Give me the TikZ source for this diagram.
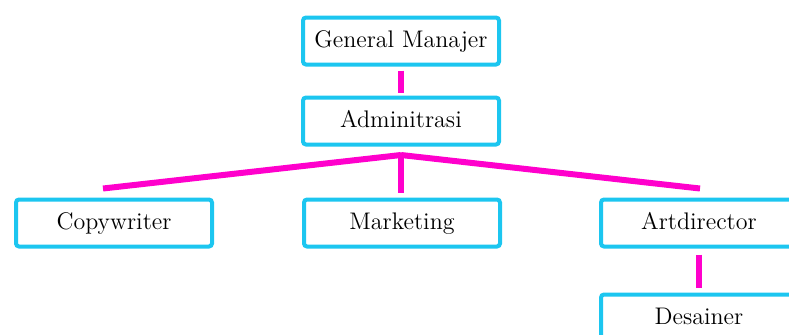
\documentclass[tikz,border=0pt]{standalone}
\usepackage{tikz}
\usetikzlibrary{positioning}
\definecolor{boxcyan}{HTML}{1CC6F0}
\definecolor{linkpink}{HTML}{FF00CC}

\begin{document}
\begin{tikzpicture}[
      x=0.5pt, y=-0.5pt,
      unit/.style={draw=boxcyan, line width=2pt, rounded corners=1.5pt, fill=white,
                   minimum width=98pt, minimum height=23.5pt, inner sep=0,
                   text height=1.75ex, text depth=.25ex,
                   font={\fontsize{12}{14}\selectfont}},
      link/.style={draw=linkpink, line width=3pt}
  ]
  \useasboundingbox (0,0) rectangle (789,334);
  \node[unit] (gm) at (401,41) {General Manajer};
  \node[unit] (adm) at (401,121) {Adminitrasi};
  \node[unit] (copy) at (114,223) {Copywriter};
  \node[unit] (mkt) at (402,223) {Marketing};
  \node[unit] (art) at (699,223) {Artdirector};
  \node[unit] (des) at (699,318) {Desainer};
  \coordinate (hub) at (401,155);
  % lines between levels
  \draw[link] ([yshift=-2pt]gm.south) -- ([yshift=1.5pt]adm.north);
  \draw[link] (hub) -- ([xshift=-5.5pt,yshift=4.5pt]copy.north);
  \draw[link] (hub) -- ([xshift=-0.5pt,yshift=2.5pt]mkt.north);
  \draw[link] (hub) -- ([xshift=0.5pt,yshift=4.5pt]art.north);
  \draw[link] ([yshift=-3pt]art.south) -- ([yshift=2.5pt]des.north);
\end{tikzpicture}
\end{document}
